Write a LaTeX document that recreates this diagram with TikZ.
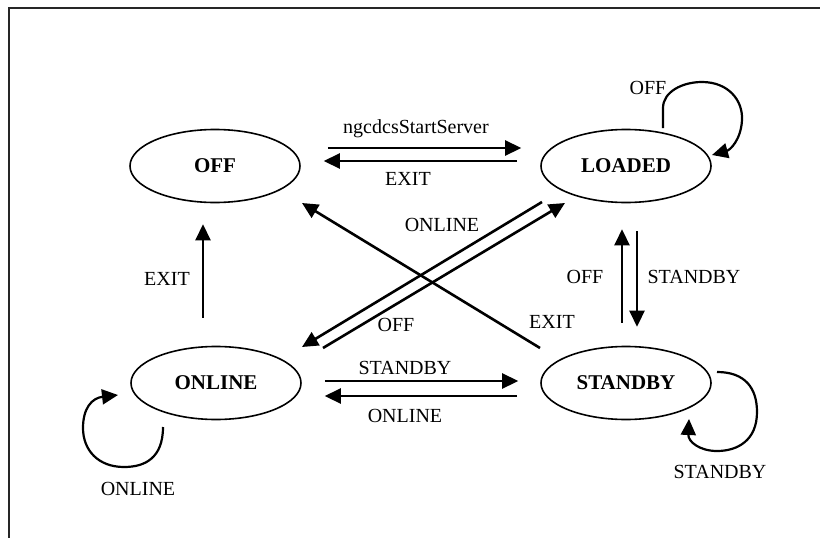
\documentclass[tikz,border=0pt]{standalone}
\usepackage{fontspec}
\setmainfont{Liberation Serif}
\usetikzlibrary{shapes.geometric,arrows.meta}
\begin{document}
\begin{tikzpicture}[x=1pt,y=-1pt,
  state/.style={draw,ellipse,line width=1.6pt,minimum width=170pt,minimum height=73pt,inner sep=0pt,font=\fontsize{21}{25}\selectfont\bfseries},
  lbl/.style={inner sep=0pt,font=\fontsize{20}{24}\selectfont},
  arr/.style={line width=2.6pt,-{Triangle[length=16pt,width=15pt]}},
  looparr/.style={line width=2.2pt,-{Triangle[length=16pt,width=15pt]}},
  frame/.style={line width=1.8pt,black!85}]
\useasboundingbox (0,0) rectangle (820,538);
\coordinate (fA) at (9,538);
\coordinate (fB) at (9,8);
\coordinate (fC) at (820,8);
\draw[frame] (fA) -- (fB) -- (fC);

\node[state] (off) at (215,166) {OFF};
\node[state] (loaded) at (626,166) {LOADED};
\node[state] (online) at (216,383) {ONLINE};
\node[state] (standby) at (626,383) {STANDBY};

% horizontal top
\draw[arr] ([shift={(27,-18)}]off.east) -- ([shift={(-19,-18)}]loaded.west);
\draw[arr] ([shift={(-23,-5)}]loaded.west) -- ([shift={(23,-5)}]off.east);
% horizontal bottom
\draw[arr] ([shift={(23,-2)}]online.east) -- ([shift={(-22,-2)}]standby.west);
\draw[arr] ([shift={(-23,13)}]standby.west) -- ([shift={(23,13)}]online.east);
% verticals
\draw[arr] ([shift={(-13,-28)}]online.north) -- ([shift={(-12,21)}]off.south);
\draw[arr] ([shift={(-4,-23)}]standby.north) -- ([shift={(-4,26)}]loaded.south);
\draw[arr] ([shift={(11,28)}]loaded.south) -- ([shift={(11,-19)}]standby.north);
% diagonals
\draw[arr] ([shift={(-86,-35)}]standby.center) -- ([shift={(87,37)}]off.center);
\draw[arr] ([shift={(-84,36)}]loaded.center) -- ([shift={(86,-36)}]online.center);
\draw[arr] ([shift={(107,-35)}]online.center) -- ([shift={(-61,37)}]loaded.center);

% loops
\coordinate (l1) at ([shift={(37,-38)}]loaded.center);
\coordinate (l2) at ([shift={(86,-11)}]loaded.center);
\draw[looparr] (l1) -- ++(0,-20) .. controls ++(0,-16) and (682,82) .. (702,82)
  .. controls (728,82) and (743,100) .. (742,120)
  .. controls (741,140) and (730,150) .. (l2);

\coordinate (o1) at ([shift={(-53,44)}]online.center);
\coordinate (o2) at ([shift={(-98,12)}]online.center);
\draw[looparr] (o1) .. controls (163,458) and (145,467) .. (124,467)
  .. controls (98,467) and (83,450) .. (83,428)
  .. controls (83,408) and (92,398) .. (o2);

\coordinate (s1) at ([shift={(91,-11)}]standby.center);
\coordinate (s2) at ([shift={(63,36)}]standby.center);
\draw[looparr] (s1) .. controls (745,372) and (757,388) .. (757,412)
  .. controls (757,440) and (738,451) .. (717,451)
  .. controls (700,451) and (688,442) .. (s2);

% labels
\node[lbl] (t1) at (416,129) {ngcdcsStartServer};
\node[lbl] (t2) at (408,179) {EXIT};
\node[lbl] (t3) at (648,88) {OFF};
\node[lbl] (t4) at (167,279) {EXIT};
\node[lbl] (t5) at (585,277) {OFF};
\node[lbl] (t6) at (694,277) {STANDBY};
\node[lbl] (t7) at (442,225) {ONLINE};
\node[lbl] (t8) at (396,325) {OFF};
\node[lbl] (t9) at (552,322) {EXIT};
\node[lbl] (t10) at (405,368) {STANDBY};
\node[lbl] (t11) at (405,416) {ONLINE};
\node[lbl] (t12) at (138,489) {ONLINE};
\node[lbl] (t13) at (720,472) {STANDBY};
\end{tikzpicture}
\end{document}
